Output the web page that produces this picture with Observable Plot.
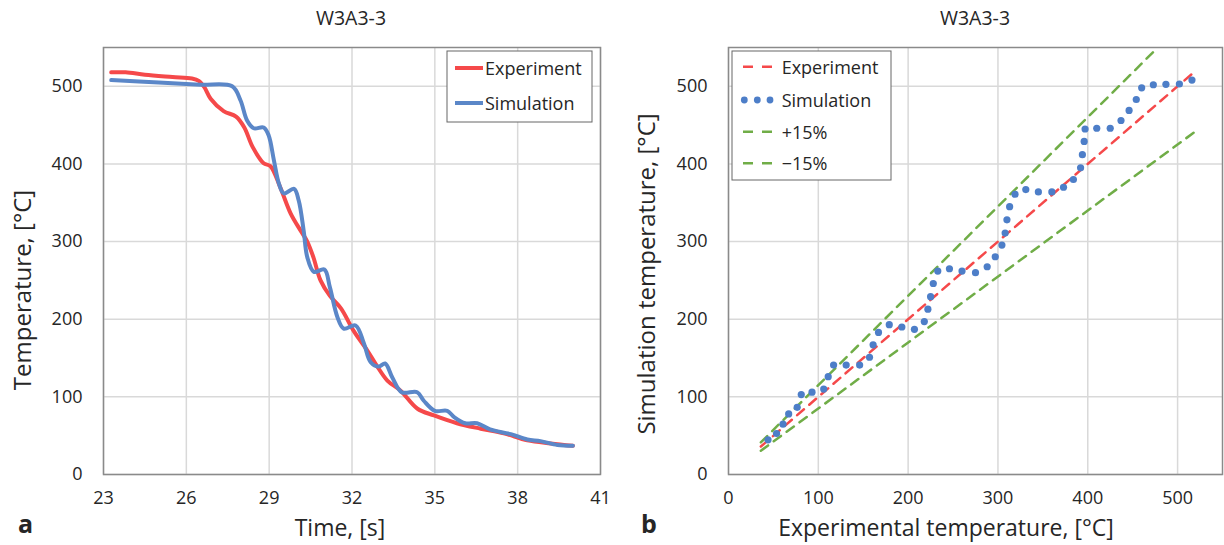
<!DOCTYPE html>
<html>
<head>
<meta charset="utf-8">
<script src="https://cdn.jsdelivr.net/npm/d3@7"></script>
<script src="https://cdn.jsdelivr.net/npm/@observablehq/plot@0.6"></script>
<style>
  html, body { margin: 0; padding: 0; background: #fff; }
  #wrap { display: flex; width: 1224px; height: 545px; }
  svg { font-family: "Open Sans", sans-serif; }
</style>
</head>
<body>
<div id="wrap"></div>
<script>
// ---- Panel a: temperature vs time ----
const titleText = "W3A3-3";
const timeTicks = [23, 26, 29, 32, 35, 38, 41];
const tempTicks = [0, 100, 200, 300, 400, 500];

const expTime = [23.28, 23.8, 24.5, 25.5, 26.2, 26.45, 26.65, 26.88, 27.35, 27.8, 28.1, 28.4, 28.8, 29.05, 29.4, 29.78, 30.14, 30.38, 30.6, 30.86, 31.2, 31.6, 32.06, 32.55, 32.9, 33.28, 33.76, 34.36, 34.97, 35.8, 36.66, 37.5, 38.35, 39.2, 40.0];
const expTemp = [518, 518, 515, 512, 510, 507, 499, 484, 468, 461, 447, 422, 401, 397, 370, 336, 314, 300, 280, 250, 230, 214, 185, 160, 140, 121, 108, 85, 76, 66, 59, 53, 44, 40, 37];

const simTime = [23.28, 25.0, 26.5, 27.66, 27.96, 28.2, 28.44, 28.8, 28.98, 29.17, 29.35, 29.53, 29.9, 30.07, 30.25, 30.38, 30.62, 31.0, 31.2, 31.47, 31.7, 32.13, 32.43, 32.67, 32.97, 33.2, 33.46, 33.8, 34.36, 34.6, 35.0, 35.45, 35.7, 36.1, 36.53, 37.0, 37.75, 38.35, 38.83, 39.44, 40.0];
const simTemp = [508, 505, 502, 500, 482, 456, 446, 447, 437, 405, 375, 362, 368, 353, 314, 280, 261, 264, 241, 203, 188, 192, 169, 145, 139, 143, 125, 106, 106, 95, 82, 82, 74, 66, 66, 58, 52, 45, 43, 38, 37];

// ---- Panel b: simulation vs experiment ----
const expTicksB = [0, 100, 200, 300, 400, 500];
const scatterExp = [44, 53.5, 60.7, 67, 76.5, 81, 93, 106, 111, 117, 131, 146, 157, 161, 167, 179, 193, 207, 218, 222, 225, 228, 233, 246, 260, 275, 288, 297, 304.4, 308, 310, 313, 319, 331, 345, 360, 373, 384, 392, 394, 396, 397, 410, 425, 437, 446, 454, 460, 473, 487, 502, 516];
const scatterSim = [44.7, 52.8, 64.8, 78, 86.5, 103, 106, 110, 126, 141, 141, 141, 151, 167, 183, 193, 190, 187, 197, 213, 229, 246, 262, 265, 262, 260, 267.6, 280.5, 295.5, 311, 328, 345, 361, 367, 364, 364, 370, 380, 395, 412, 429, 445, 446, 446, 456, 469, 483, 498, 502, 502.6, 503, 508];

const refLineX = [36, 520];
const refLineY = [36, 520];
const plusX = [36, 478];
const plusY = [41.4, 550];
const minusX = [36, 520];
const minusY = [30.6, 442];

const legendA = ["Experiment", "Simulation"];
const legendB = ["Experiment", "Simulation", "+15%", "\u221215%"];

const RED = "#f5494a", BLUE = "#5b87c8", DOTBLUE = "#4d7ec8", GREEN = "#70ad47";
const GRID = "#d9d9d9", FRAME = "#8a8a8a", TXT = "#262626";

const pair = (xs, ys) => xs.map((x, i) => ({x, y: ys[i]}));

const common = {
  width: 612, height: 545, marginTop: 47, marginBottom: 71,
  style: {fontFamily: "'Open Sans', sans-serif", color: TXT, background: "#fff", overflow: "visible"}
};

const plotA = Plot.plot({
  ...common,
  marginLeft: 103, marginRight: 12,
  x: {domain: [23, 41]},
  y: {domain: [0, 550]},
  marks: [
    Plot.gridX(timeTicks, {stroke: GRID, strokeOpacity: 1, strokeWidth: 1.5}),
    Plot.gridY(tempTicks, {stroke: GRID, strokeOpacity: 1, strokeWidth: 1.5}),
    Plot.frame({stroke: FRAME, strokeWidth: 1.5}),
    Plot.axisX(timeTicks, {tickSize: 0, tickPadding: 17, fontSize: 18, label: null}),
    Plot.axisY(tempTicks, {tickSize: 0, tickPadding: 21, fontSize: 18, label: null}),
    Plot.line(pair(expTime, expTemp), {x: "x", y: "y", stroke: RED, strokeWidth: 4, curve: "catmull-rom"}),
    Plot.line(pair(simTime, simTemp), {x: "x", y: "y", stroke: BLUE, strokeWidth: 4, curve: "catmull-rom"})
  ]
});

const plotB = Plot.plot({
  ...common,
  marginLeft: 116, marginRight: 2,
  x: {domain: [0, 550]},
  y: {domain: [0, 550]},
  marks: [
    Plot.gridX(expTicksB, {stroke: GRID, strokeOpacity: 1, strokeWidth: 1.5}),
    Plot.gridY(tempTicks, {stroke: GRID, strokeOpacity: 1, strokeWidth: 1.5}),
    Plot.frame({stroke: FRAME, strokeWidth: 1.5}),
    Plot.axisX(expTicksB, {tickSize: 0, tickPadding: 17, fontSize: 18, label: null}),
    Plot.axisY(tempTicks, {tickSize: 0, tickPadding: 21, fontSize: 18, label: null}),
    Plot.line(pair(refLineX, refLineY), {x: "x", y: "y", stroke: RED, strokeWidth: 2.5, strokeDasharray: "9,7"}),
    Plot.line(pair(plusX, plusY), {x: "x", y: "y", stroke: GREEN, strokeWidth: 2.5, strokeDasharray: "9,7"}),
    Plot.line(pair(minusX, minusY), {x: "x", y: "y", stroke: GREEN, strokeWidth: 2.5, strokeDasharray: "9,7"}),
    Plot.dot(pair(scatterExp, scatterSim), {x: "x", y: "y", r: 3.6, fill: DOTBLUE, stroke: "none"})
  ]
});

const wrap = document.getElementById("wrap");
wrap.appendChild(plotA);
wrap.appendChild(plotB);

function addText(svg, txt, x, y, opts = {}) {
  const t = d3.select(svg).append("text")
    .attr("x", x).attr("y", y)
    .attr("fill", TXT)
    .attr("font-family", "'Open Sans', sans-serif")
    .attr("font-size", opts.size || 18)
    .attr("text-anchor", opts.anchor || "middle")
    .attr("font-weight", opts.weight || "normal")
    .text(txt);
  if (opts.rotate) t.attr("transform", `rotate(${opts.rotate},${x},${y})`);
  return t;
}

// Titles, axis labels, panel letters
addText(plotA, titleText, 351, 25, {size: 19.5});
addText(plotB, titleText, 363, 25, {size: 19.5});
addText(plotA, "Time, [s]", 340, 536, {size: 23});
addText(plotB, "Experimental temperature, [°C]", 334, 536, {size: 23});
addText(plotA, "Temperature, [°C]", 31, 290, {size: 24, rotate: -90});
addText(plotB, "Simulation temperature, [°C]", 43, 274, {size: 24, rotate: -90});
addText(plotA, "a", 18, 533, {size: 25, weight: "bold", anchor: "start"});
addText(plotB, "b", 29, 533, {size: 25, weight: "bold", anchor: "start"});

// Legend A
{
  const g = d3.select(plotA).append("g");
  g.append("rect").attr("x", 447).attr("y", 51).attr("width", 145).attr("height", 71)
    .attr("fill", "#fff").attr("stroke", "#666").attr("stroke-width", 1);
  const cols = [RED, BLUE];
  legendA.forEach((name, i) => {
    const yy = 68 + i * 35;
    g.append("line").attr("x1", 455).attr("x2", 483).attr("y1", yy).attr("y2", yy)
      .attr("stroke", cols[i]).attr("stroke-width", 4);
    addText(plotA, name, 485, yy + 7, {size: 18, anchor: "start"});
  });
}

// Legend B
{
  const ox = -612;
  const g = d3.select(plotB).append("g");
  g.append("rect").attr("x", 732 + ox).attr("y", 51).attr("width", 159).attr("height", 129)
    .attr("fill", "#fff").attr("stroke", "#666").attr("stroke-width", 1);
  const ys = [66.7, 100, 131.7, 163.3];
  const cols = [RED, null, GREEN, GREEN];
  legendB.forEach((name, i) => {
    const yy = ys[i];
    if (cols[i]) {
      g.append("line").attr("x1", 743 + ox).attr("x2", 772 + ox).attr("y1", yy).attr("y2", yy)
        .attr("stroke", cols[i]).attr("stroke-width", 2.5).attr("stroke-dasharray", "10,9");
    } else {
      [744.3, 757.3, 770].forEach(cx => g.append("circle").attr("cx", cx + ox).attr("cy", yy).attr("r", 3.4).attr("fill", DOTBLUE));
    }
    addText(plotB, name, 781.7 + ox, yy + 7, {size: 18, anchor: "start"});
  });
}
</script>
</body>
</html>
